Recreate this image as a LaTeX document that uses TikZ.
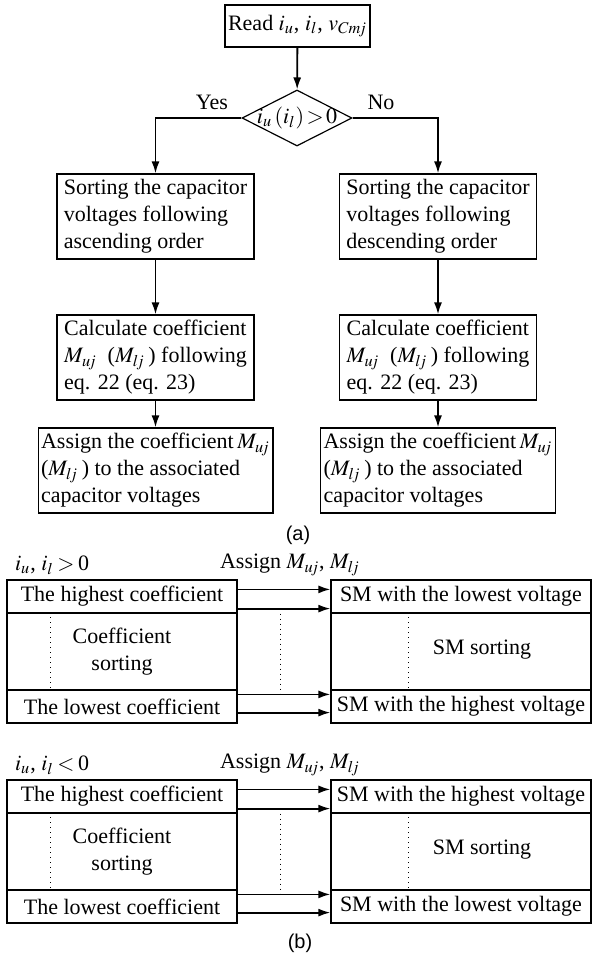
\documentclass[tikz,border=0pt]{standalone}
\usepackage{fontspec}
\setmainfont{Liberation Serif}
\setsansfont{Liberation Sans}
\usepackage{mathptmx}
\usetikzlibrary{shapes.geometric,arrows.meta,calc}

\newcommand{\Mu}{M_{u\!j}}
\newcommand{\Ml}{M_{l\!j}}

\begin{document}
\begin{tikzpicture}[x=0.5pt,y=-0.5pt,
        font=\fontspec{Liberation Serif}\fontsize{11}{13.5}\selectfont,
        box/.style={draw,line width=0.6pt,align=left,inner sep=1.5pt},
        cell/.style={draw,line width=0.6pt,align=center,inner sep=0pt,minimum height=16.5pt},
        flow/.style={line width=0.9pt,-{Latex[length=6pt,width=4pt]}},
        guide/.style={dotted,line width=0.5pt}]

    \useasboundingbox (0,0) rectangle (592,954);

    \node[box,minimum width=70.5pt,minimum height=21pt] (read) at (297.5,26) {Read $i_u$, $i_l$, $v_{Cm\!j}$};
    \node[draw,diamond,line width=0.6pt,minimum width=55pt,minimum height=28pt,inner sep=0pt] (dec) at (297,118) {};
    \node[inner sep=0pt] (dectxt) at (dec) {$i_u\,(i_l)\!>\!0$};
    \node (yes) at (212,102) {Yes};
    \node (no) at (381,102) {No};

    \foreach \cx/\ord/\side in {155.5/ascending/L, 438/descending/R} {
        \node[box,minimum width=98.5pt,minimum height=42.5pt] (sort\side) at (\cx,216.5)
            {Sorting the capacitor\\voltages following\\\ord\ order};
        \node[box,minimum width=98.5pt,minimum height=42.5pt] (calc\side) at (\cx,357.5)
            {Calculate coefficient\\$\Mu$\ \ ($\Ml$\,) following\\eq. 22 (eq. 23)};
        \node[box,minimum width=116.5pt,minimum height=42.5pt] (asgn\side) at (\cx,470.5)
            {Assign the coefficient\,$\Mu$\\($\Ml$\,) to the associated\\capacitor voltages};
        \draw[flow] (sort\side) -- (calc\side);
        \draw[flow] (calc\side) -- (asgn\side);
    }

    \draw[flow] (read) -- (dec);
    \draw[flow] (dec.west) -| (sortL.north);
    \draw[flow] (dec.east) -| (sortR.north);

    \node[font=\fontspec{Liberation Sans}\fontsize{10}{12}\selectfont] (capa) at (298,535) {(a)};

    \foreach \dy/\cmp/\topsm/\botsm/\nm in {0/>/lowest/highest/a, 200/</highest/lowest/b} {
        \node[anchor=west] (cond\nm) at (8,565+\dy) {$i_u$, $i_l$\,$\cmp$\,0};
        \node (give\nm) at (290,565+\dy) {Assign $\Mu$, $\Ml$};

        \node[cell,minimum width=115pt] (hiL\nm) at (122,596.5+\dy) {The highest coefficient};
        \node[cell,minimum width=115pt,minimum height=38.5pt] (midL\nm) at (122,651.5+\dy) {Coefficient\\sorting};
        \node[cell,minimum width=115pt] (loL\nm) at (122,706.5+\dy) {The lowest coefficient};

        \node[cell,minimum width=130pt] (hiR\nm) at (461,596.5+\dy) {SM with the \topsm\ voltage};
        \node[cell,minimum width=130pt,minimum height=38.5pt] (midR\nm) at (461,651.5+\dy) {};
        \node[cell,minimum width=130pt] (loR\nm) at (461,706.5+\dy) {SM with the \botsm\ voltage};
        \node (srt\nm) at (482,650+\dy) {SM sorting};

        \draw[flow] ($(hiL\nm.north east)+(0,10)$) -- ($(hiR\nm.north west)+(0,10)$);
        \draw[flow] ($(hiL\nm.south east)+(0,-5)$) -- ($(hiR\nm.south west)+(0,-5)$);
        \draw[flow] ($(loL\nm.north east)+(0,5)$) -- ($(loR\nm.north west)+(0,5)$);
        \draw[flow] ($(loL\nm.south east)+(0,-11)$) -- ($(loR\nm.south west)+(0,-11)$);

        \draw[guide] ($(midL\nm.north west)+(44,0)$) -- ($(midL\nm.south west)+(44,0)$);
        \draw[guide] ($(midR\nm.north west)+(78,0)$) -- ($(midR\nm.south west)+(78,0)$);
        \draw[guide] ($(hiL\nm.south east)+(43,-5)$) -- ($(loL\nm.north east)+(43,5)$);
    }

    \node[font=\fontspec{Liberation Sans}\fontsize{10}{12}\selectfont] (capb) at (300,943) {(b)};
\end{tikzpicture}
\end{document}
